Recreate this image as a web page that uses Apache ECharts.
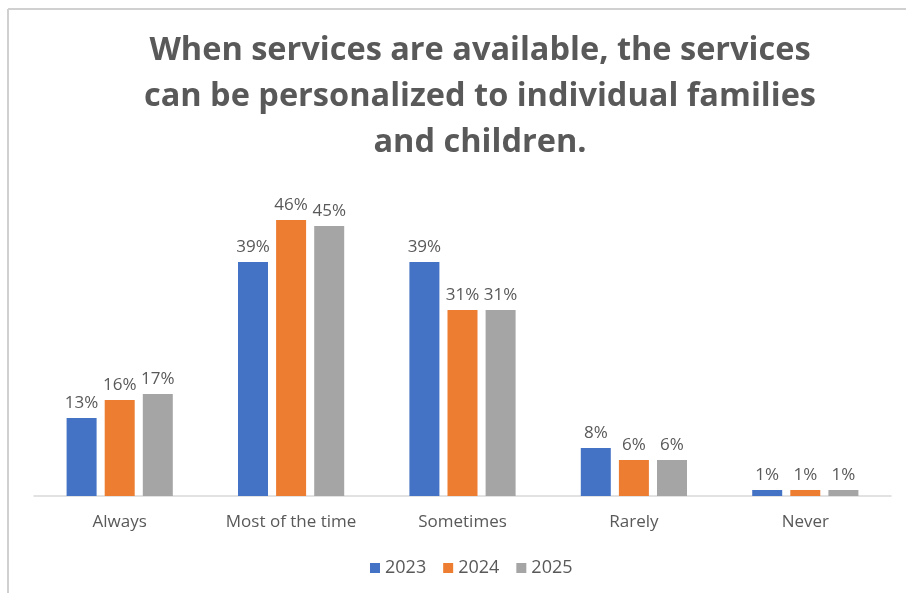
<!DOCTYPE html>
<html>
<head>
<meta charset="utf-8">
<script src="https://cdn.jsdelivr.net/npm/echarts@6/dist/echarts.min.js"></script>
<style>
  html, body { margin: 0; padding: 0; background: #fff; }
  #chart { width: 906px; height: 593px; }
</style>
</head>
<body>
<div id="chart"></div>
<script>
// Responses by frequency, percent of respondents per survey year
const categories = ['Always', 'Most of the time', 'Sometimes', 'Rarely', 'Never'];
const years = ['2023', '2024', '2025'];
const values2023 = [13, 39, 39, 8, 1];
const values2024 = [16, 46, 31, 6, 1];
const values2025 = [17, 45, 31, 6, 1];
const titleText = 'When services are available, the services\ncan be personalized to individual families\nand children.';

const colors = ['#4472C4', '#ED7D31', '#A5A5A5'];
const textColor = '#595959';
const font = '"Open Sans", Lato, sans-serif';

const chart = echarts.init(document.getElementById('chart'), null, { renderer: 'canvas' });

function barSeries(name, data) {
  return {
    name: name,
    type: 'bar',
    data: data,
    barWidth: 30,
    barGap: '27%',
    label: {
      show: true,
      position: 'top',
      distance: 6,
      formatter: '{c}%',
      color: textColor,
      fontSize: 17,
      fontFamily: font
    }
  };
}

chart.setOption({
  animation: false,
  backgroundColor: '#fff',
  color: colors,
  title: {
    text: titleText,
    left: 475,
    top: 23,
    textAlign: 'center',
    textStyle: {
      color: textColor,
      fontSize: 32.5,
      fontWeight: 'bold',
      fontFamily: font,
      lineHeight: 46
    }
  },
  legend: {
    data: years,
    top: 554,
    left: 365,
    itemWidth: 10,
    itemHeight: 10,
    itemGap: 17,
    icon: 'rect',
    textStyle: { color: textColor, fontSize: 18, fontFamily: font }
  },
  grid: { left: 34, right: 15, top: 196, bottom: 97, containLabel: false },
  xAxis: {
    type: 'category',
    data: categories,
    axisLine: { lineStyle: { color: '#D9D9D9', width: 1.5 } },
    axisTick: { show: false },
    axisLabel: { color: textColor, fontSize: 17, fontFamily: font, margin: 18 }
  },
  yAxis: {
    type: 'value',
    min: 0,
    max: 50,
    show: false,
    splitLine: { show: false }
  },
  graphic: [
    { type: 'line', shape: { x1: 8, y1: 9, x2: 906, y2: 9 }, style: { stroke: '#D0D0D0', lineWidth: 2 } },
    { type: 'line', shape: { x1: 8, y1: 9, x2: 8, y2: 593 }, style: { stroke: '#D0D0D0', lineWidth: 2 } }
  ],
  series: [
    barSeries(years[0], values2023),
    barSeries(years[1], values2024),
    barSeries(years[2], values2025)
  ]
});
</script>
</body>
</html>
